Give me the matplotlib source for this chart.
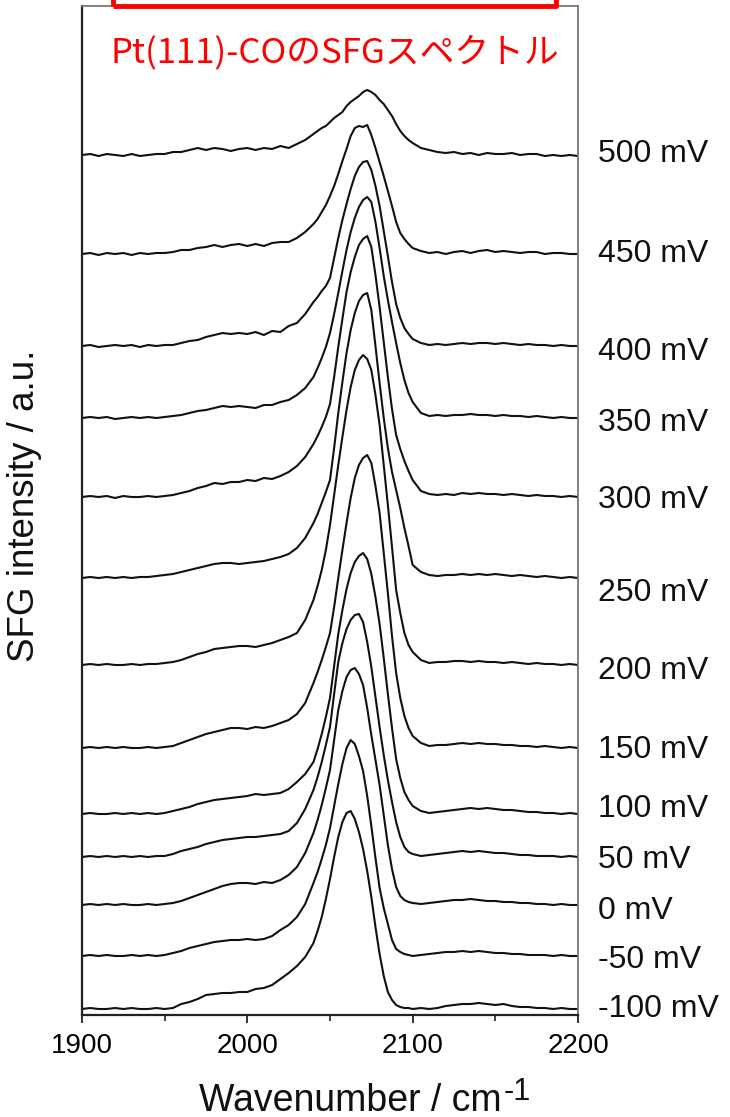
import matplotlib
matplotlib.use("Agg")
import matplotlib.pyplot as plt
from matplotlib.patches import Rectangle
from matplotlib.ticker import FixedLocator

plt.rcParams["font.family"] = ["Liberation Sans", "DejaVu Sans"]

# ---------------- data ----------------
wn_left = list(range(1900, 2040, 5))                 # 1900 ... 2035
wn_mid = [2040 + 2.5 * i for i in range(25)]         # 2040 ... 2100
wn_right = list(range(2105, 2201, 5))                # 2105 ... 2200
wavenumber = wn_left + wn_mid + wn_right

labels = ["500 mV", "450 mV", "400 mV", "350 mV", "300 mV", "250 mV", "200 mV",
          "150 mV", "100 mV", "50 mV", "0 mV", "-50 mV", "-100 mV"]
offsets = [859, 761, 669, 597, 518, 437, 350, 267, 201, 158, 110, 59, 6]

s500 = [1,2,0,2,1,0,2,0,1,2, 2,4,4,6,8,6,8,7,5,7, 8,6,8,7,10,8,12,16,
        22,25,28,30,34,38,41,44,50,54,57,60,64,66,64,61,56,52,46,40,32,25,20,16,13,
        8,6,4,3,4,2,3,1,3,2,2,3,1,2,2,0,1,0,1,0]
s450 = [0,1,-1,1,0,1,-1,1,0,1, 1,2,4,4,6,7,9,7,9,10, 8,10,8,11,12,12,16,22,
        30,35,42,49,58,68,80,93,105,118,126,128,127,129,119,106,92,78,63,48,32,21,15,10,6,
        3,1,2,0,2,3,1,3,4,2,3,2,1,2,2,0,1,1,0,0]
s400 = [0,1,-1,0,1,0,1,-1,1,0, 1,1,3,5,6,9,11,13,12,13, 12,14,11,15,14,20,23,32,
        44,49,55,60,68,88,108,126,142,157,170,179,184,185,176,160,140,115,90,64,42,28,18,12,7,
        3,1,2,1,2,3,2,3,3,2,3,2,1,2,1,1,0,1,0,0]
s350 = [0,1,0,1,-1,0,1,0,1,0, 1,2,3,5,7,8,10,12,11,12, 11,10,13,13,16,18,23,30,
        41,50,60,71,85,104,125,147,168,186,200,211,218,221,216,196,170,142,118,96,75,55,38,25,16,
        5,2,3,2,3,3,4,3,3,2,3,2,2,1,2,1,0,1,0,0]
s300 = [0,1,0,1,-1,1,0,0,1,0, 1,2,4,6,9,11,14,13,15,15, 17,16,19,18,21,25,31,40,
        53,61,70,80,93,120,150,178,205,225,240,252,258,261,250,222,190,155,120,88,62,48,36,26,17,
        6,3,2,3,2,4,3,4,3,3,2,3,2,1,2,1,1,0,1,0]
s250 = [0,1,0,1,0,1,0,1,1,2, 3,4,6,8,10,12,14,15,15,14, 15,16,17,19,21,24,30,40,
        55,64,75,86,98,130,165,196,225,248,265,277,283,285,268,232,195,160,130,106,88,70,50,32,13,
        6,3,2,3,3,4,3,4,3,4,3,2,3,2,1,2,1,0,1,0]
s200 = [0,1,0,1,0,0,1,0,1,1, 2,3,5,8,11,13,16,17,18,19, 19,18,20,22,25,28,32,45,
        65,79,95,115,140,170,200,228,255,278,295,305,310,306,295,270,240,200,160,118,75,52,32,20,13,
        5,2,3,3,4,4,3,4,3,3,2,3,2,1,2,1,1,0,1,0]
s150 = [0,1,0,1,0,1,0,0,1,0, 1,2,5,8,11,14,16,18,20,20, 19,21,20,22,25,28,34,45,
        65,76,88,101,115,141,170,198,225,250,270,283,290,293,285,262,235,195,155,112,75,50,32,20,12,
        5,2,3,3,4,5,4,5,4,4,3,3,2,2,1,2,1,0,1,0]
s100 = [0,1,0,0,1,0,1,0,1,0, 1,3,5,7,10,12,14,15,16,17, 18,20,19,20,21,25,32,40,
        52,65,80,97,116,148,180,204,225,241,252,258,261,255,240,217,190,156,120,86,55,36,22,14,8,
        3,1,2,3,4,5,6,5,6,5,4,4,3,2,2,1,1,0,1,0]
s50 = [0,1,0,1,0,1,0,1,0,1, 1,3,6,8,10,13,15,17,18,19, 20,20,21,22,23,26,34,48,
       67,80,95,112,130,163,195,214,228,237,242,243,235,215,190,160,130,102,77,55,35,20,10,5,3,
       1,2,3,4,5,6,5,6,5,4,4,3,2,2,1,1,1,0,1,0]
s0 = [0,1,0,1,0,1,0,0,1,0, 1,2,4,7,10,13,16,19,21,22, 22,21,23,22,25,30,38,52,
      72,85,100,117,135,165,195,214,228,235,237,231,220,197,170,145,120,90,60,36,18,9,5,3,2,
      1,2,3,4,5,5,6,5,4,4,3,3,2,2,1,1,0,1,0,0]
s_50 = [0,1,0,1,0,0,1,0,1,0, 1,3,5,8,10,12,14,15,16,16, 17,16,17,20,26,31,39,52,
        73,84,97,111,128,150,172,192,208,216,212,200,185,160,130,98,68,48,32,16,7,4,2,1,0,
        1,2,3,4,4,5,4,5,4,3,3,2,2,1,1,1,0,1,0,0]
s_100 = [0,1,0,0,1,0,1,0,0,1, 0,1,5,7,10,14,15,16,16,17, 17,20,21,24,30,36,43,52,
         66,78,92,110,130,152,172,187,196,198,190,177,160,138,112,82,55,33,17,9,4,2,1,1,0,
         1,0,1,3,4,5,5,6,5,4,5,3,2,2,1,1,0,1,0,0]

spectra = [s500, s450, s400, s350, s300, s250, s200, s150, s100, s50, s0, s_50, s_100]

# label baseline positions (data units)
label_y = [853, 753, 655, 584, 507, 414, 336, 257, 198, 147, 96, 47, -2]

# ---------------- figure ----------------
W, H = 730, 1117
fig = plt.figure(figsize=(W / 100, H / 100), dpi=100)
ax = fig.add_axes([82 / W, (H - 1015) / H, 496 / W, 1009 / H])

for spec, off in zip(spectra, offsets):
    ax.plot(wavenumber, [v + off for v in spec], color="#111111", lw=1.5,
            solid_joinstyle="round")

ax.set_xlim(1900, 2200)
ax.set_ylim(0, 1009)
ax.set_yticks([])
ax.xaxis.set_major_locator(FixedLocator([1900, 2000, 2100, 2200]))
ax.xaxis.set_minor_locator(FixedLocator([1950, 2050, 2150]))
ax.tick_params(axis="x", which="major", direction="out", length=6, width=1.3,
               labelsize=20, pad=7, color="#222222")
ax.tick_params(axis="x", which="minor", direction="out", length=4, width=1.2,
               color="#222222")
for side in ["left", "bottom"]:
    ax.spines[side].set_color("#222222")
    ax.spines[side].set_linewidth(1.6)
for side in ["top", "right"]:
    ax.spines[side].set_color("#777777")
    ax.spines[side].set_linewidth(1.3)

trans = ax.get_yaxis_transform()
for lab, yy in zip(labels, label_y):
    ax.text((598 - 82) / 496, yy, lab, transform=trans, fontsize=23,
            ha="left", va="baseline", clip_on=False, color="#111111")

# x label with a hyphen-style superscript
xl = fig.text(199 / W, (H - 1111) / H, "Wavenumber / cm", fontsize=27,
              ha="left", va="baseline", color="#111111")
fig.canvas.draw()
bb = xl.get_window_extent(renderer=fig.canvas.get_renderer())
fig.text((bb.x1 + 2) / W, (H - 1111 + 11) / H, "-1", fontsize=22,
         ha="left", va="baseline", color="#111111")

fig.text(25 / W, (H - 506) / H, "SFG intensity / a.u.", fontsize=26.5,
         rotation=90, ha="center", va="center", color="#111111")

fig.text(335 / W, (H - 53) / H, "Pt(111)-COのSFGスペクトル", fontsize=25,
         color="#ff0000", ha="center", va="center",
         family=["Noto Sans CJK JP", "DejaVu Sans"])

rect = Rectangle((113 / W, (H - 6) / H), 443 / W, 0.05, transform=fig.transFigure,
                 fill=False, edgecolor="#ff0000", lw=3.5, clip_on=False,
                 joinstyle="round")
fig.add_artist(rect)

fig.savefig("out.png", dpi=100)
